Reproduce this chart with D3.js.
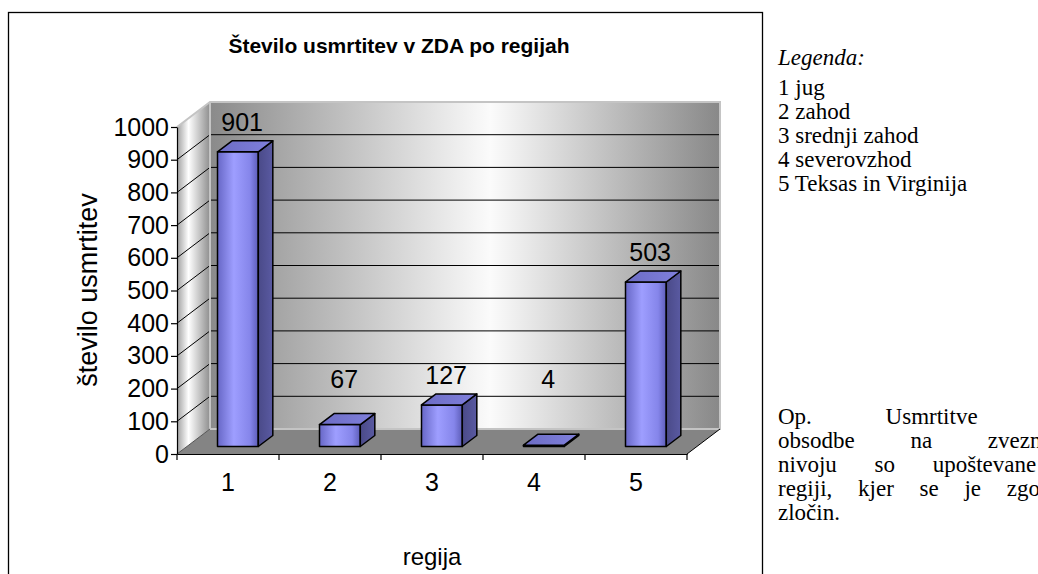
<!DOCTYPE html>
<html>
<head>
<meta charset="utf-8">
<script src="https://cdn.jsdelivr.net/npm/d3@7"></script>
<style>
  html, body { margin: 0; padding: 0; background: #fff; overflow: hidden; }
  svg { display: block; }
</style>
</head>
<body>
<svg id="chart" width="1038" height="574"></svg>
<script>
// ---------- data ----------
const categories = ["1", "2", "3", "4", "5"];
const values = [901, 67, 127, 4, 503];
const yTicks = [0, 100, 200, 300, 400, 500, 600, 700, 800, 900, 1000];
const chartTitle = "Število usmrtitev v ZDA po regijah";
const yTitle = "število usmrtitev";
const xTitle = "regija";
const legendTitle = "Legenda:";
const legendItems = ["1 jug", "2 zahod", "3 srednji zahod", "4 severovzhod", "5 Teksas in Virginija"];
const noteLines = ["Op. Usmrtitve zaradi", "obsodbe na zveznem", "nivoju so upoštevane v", "regiji, kjer se je zgodil", "zločin."];

// ---------- layout ----------
const svg = d3.select("#chart");
const sans = "'Liberation Sans', Arial, sans-serif";
const serif = "'Liberation Serif', 'Times New Roman', serif";
const X0 = 177, X1 = 687, Y0 = 454, Y1 = 127;
const DX = 33, DY = -25;           // depth offset of the back wall
const D0 = 0.30, D1 = 0.74;        // bar depth range
const x = d3.scaleBand().domain(categories).range([X0, X1]).paddingInner(0).paddingOuter(0);
const y = d3.scaleLinear().domain([0, 1000]).range([Y0, Y1]);
const P = (px, v, d) => [px + DX * d, y(v) + DY * d];
const poly = pts => "M" + pts.map(p => p.join(",")).join("L") + "Z";

const defs = svg.append("defs");
function hGrad(id, stops) {
  const g = defs.append("linearGradient").attr("id", id).attr("x1", 0).attr("x2", 1).attr("y1", 0).attr("y2", 0);
  stops.forEach(s => g.append("stop").attr("offset", s[0]).attr("stop-color", s[1]));
}
hGrad("wallGrad", [[0, "#8a8a8a"], [0.55, "#fbfbfb"], [1, "#888888"]]);
hGrad("sideGrad", [[0, "#a0a0a0"], [0.35, "#ffffff"], [1, "#8e8e8e"]]);
hGrad("frontGrad", [[0, "#6767c6"], [0.4, "#9e9eff"], [0.8, "#8585ea"], [1, "#5d5db8"]]);
hGrad("sideBarGrad", [[0, "#4a4a88"], [1, "#5a5aa2"]]);
hGrad("topGrad", [[0, "#6c6cc4"], [1, "#8080dc"]]);

// outer frame
svg.append("rect").attr("x", 8.5).attr("y", 12.5).attr("width", 754).attr("height", 600)
  .attr("fill", "none").attr("stroke", "#000").attr("stroke-width", 1.3);

// title
svg.append("text").attr("x", 399).attr("y", 53).attr("text-anchor", "middle")
  .attr("font-family", sans).attr("font-weight", "bold")
  .attr("font-size", 21).text(chartTitle);

// back wall
svg.append("path").attr("d", poly([P(X0, 0, 1), P(X1, 0, 1), P(X1, 1000, 1), P(X0, 1000, 1)]))
  .attr("fill", "url(#wallGrad)");
// side wall
svg.append("path").attr("d", poly([P(X0, 0, 0), P(X0, 0, 1), P(X0, 1000, 1), P(X0, 1000, 0)]))
  .attr("fill", "url(#sideGrad)");
// floor
svg.append("path").attr("d", poly([P(X0, 0, 0), P(X1, 0, 0), P(X1, 0, 1), P(X0, 0, 1)]))
  .attr("fill", "#848484");

// gridlines
const grid = svg.append("g").attr("stroke", "#000").attr("stroke-width", 1);
yTicks.filter(t => t > 0 && t < 1000).forEach(t => {
  grid.append("path").attr("d", "M" + P(X0, t, 0) + "L" + P(X0, t, 1) + "L" + P(X1, t, 1)).attr("fill", "none");
});
// wall borders
svg.append("path").attr("d", "M" + P(X0, 1000, 0) + "L" + P(X0, 1000, 1) + "L" + P(X1, 1000, 1) + "L" + P(X1, 0, 1) + "L" + P(X0, 0, 1) + "L" + P(X0, 1000, 1))
  .attr("fill", "none").attr("stroke", "#c4c4c4").attr("stroke-width", 2);
// floor edges
svg.append("path").attr("d", "M" + P(X0, 0, 0) + "L" + P(X0, 0, 1)).attr("stroke", "#555").attr("stroke-width", 1);
svg.append("path").attr("d", "M" + P(X1, 0, 0) + "L" + P(X1, 0, 1)).attr("stroke", "#000").attr("stroke-width", 1);

// bars
const bw = x.bandwidth() * 0.4;
const bars = svg.append("g").attr("stroke", "#000").attr("stroke-width", 1.5).attr("stroke-linejoin", "round");
categories.forEach((c, i) => {
  const v = values[i];
  const xl = x(c) + (x.bandwidth() - bw) / 2, xr = xl + bw;
  bars.append("path").attr("d", poly([P(xl, 0, D0), P(xr, 0, D0), P(xr, v, D0), P(xl, v, D0)])).attr("fill", "url(#frontGrad)");
  bars.append("path").attr("d", poly([P(xr, 0, D0), P(xr, 0, D1), P(xr, v, D1), P(xr, v, D0)])).attr("fill", "url(#sideBarGrad)");
  bars.append("path").attr("d", poly([P(xl, v, D0), P(xr, v, D0), P(xr, v, D1), P(xl, v, D1)])).attr("fill", "url(#topGrad)");
});

// data labels
const DM = (D0 + D1) / 2;
svg.append("g").selectAll("text").data(categories).join("text")
  .attr("x", c => P(x(c) + x.bandwidth() / 2, 0, DM)[0] - 3)
  .attr("y", (c, i) => P(0, Math.max(values[i] + 75, 190), DM)[1])
  .attr("dy", "0.35em").attr("text-anchor", "middle")
  .attr("font-family", sans).attr("font-size", 25)
  .text((c, i) => values[i]);

// y axis
const yAxis = svg.append("g").attr("transform", `translate(${X0},0)`)
  .call(d3.axisLeft(y).tickValues(yTicks).tickFormat(d3.format("d")).tickSize(6).tickSizeOuter(0).tickPadding(2));
yAxis.selectAll("text").attr("font-family", sans).attr("font-size", 25).attr("fill", "#000");
yAxis.selectAll("line, path").attr("stroke", "#000").attr("stroke-width", 1.2);

// x axis
const xAxis = svg.append("g").attr("transform", `translate(0,${Y0})`)
  .call(d3.axisBottom(x).tickSize(0).tickSizeOuter(0).tickPadding(19));
xAxis.selectAll("text").attr("font-family", sans).attr("font-size", 25).attr("fill", "#000");
xAxis.select("path").attr("stroke", "#000").attr("stroke-width", 1.2);
xAxis.selectAll("line.bound").data(d3.range(categories.length + 1)).join("line").attr("class", "bound")
  .attr("x1", i => X0 + i * x.step()).attr("x2", i => X0 + i * x.step())
  .attr("y1", 0).attr("y2", 6).attr("stroke", "#000").attr("stroke-width", 1.2);

// axis titles
svg.append("text").attr("transform", "translate(97,290) rotate(-90)").attr("text-anchor", "middle")
  .attr("font-family", sans).attr("font-size", 27).text(yTitle);
svg.append("text").attr("x", (X0 + X1) / 2).attr("y", 565).attr("text-anchor", "middle")
  .attr("font-family", sans).attr("font-size", 24).text(xTitle);

// legend (right side, serif text)
const TX = 778;
svg.append("text").attr("x", TX).attr("y", 65).attr("font-family", serif).attr("font-style", "italic")
  .attr("font-size", 23).text(legendTitle);
svg.append("g").selectAll("text").data(legendItems).join("text")
  .attr("x", TX).attr("y", (d, i) => 95 + i * 24)
  .attr("font-family", serif).attr("font-size", 23).text(d => d);

// note (justified paragraph, runs past the right edge)
const noteSpacing = [68, 50, 32, 20, 0];
svg.append("g").selectAll("text").data(noteLines).join("text")
  .attr("x", TX).attr("y", (d, i) => 424 + i * 24)
  .attr("font-family", serif).attr("font-size", 23)
  .style("word-spacing", (d, i) => noteSpacing[i] + "px")
  .text(d => d);
</script>
</body>
</html>
